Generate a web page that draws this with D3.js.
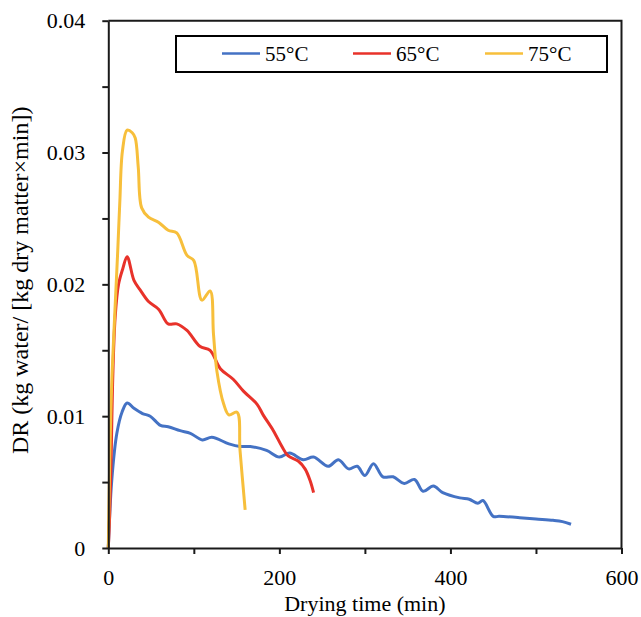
<!DOCTYPE html>
<html><head><meta charset="utf-8">
<script src="https://cdn.jsdelivr.net/npm/d3@7"></script>
<style>
body{margin:0;background:#fff}
svg{display:block}
</style>
</head><body><svg id="c" width="641" height="617"></svg>
<script>
// ---- data ----
const seriesNames = ["55°C", "65°C", "75°C"];
const seriesColors = ["#4472C4", "#E8322A", "#F7BF3B"];

const time55 = [0, 4, 10, 16, 22, 30, 40, 49, 61, 70, 84, 96, 110, 121, 141, 154, 166, 185, 200, 212, 228, 240, 257, 269, 281, 291, 300, 310, 321, 333, 346, 358, 368, 380, 391, 411, 422, 432, 438, 450, 457, 481, 500, 520, 531, 541];
const dr55   = [0, 0.0051, 0.0087, 0.0103, 0.0110, 0.0106, 0.0102, 0.0100, 0.0093, 0.0092, 0.0089, 0.0087, 0.0082, 0.0084, 0.0079, 0.0077, 0.0077, 0.0074, 0.0069, 0.0072, 0.0067, 0.0069, 0.0062, 0.0067, 0.0060, 0.0062, 0.0055, 0.0064, 0.0054, 0.0054, 0.0049, 0.0052, 0.0043, 0.0047, 0.0042, 0.0038, 0.0037, 0.0034, 0.0036, 0.0024, 0.0024, 0.0023, 0.0022, 0.0021, 0.0020, 0.0018];

const time65 = [0, 1.5, 3.5, 5, 8, 12, 17, 22, 30, 37, 47, 59, 70, 80, 92, 107, 119, 131, 146, 158, 174, 181, 193, 203, 210, 222, 230, 236, 240];
const dr65   = [0, 0.0023, 0.0074, 0.0124, 0.0175, 0.0200, 0.0212, 0.0221, 0.0203, 0.0196, 0.0187, 0.0181, 0.0170, 0.0170, 0.0165, 0.0153, 0.0150, 0.0136, 0.0128, 0.0119, 0.0109, 0.0101, 0.0089, 0.0077, 0.0070, 0.0066, 0.0060, 0.0051, 0.0042];

const time75 = [0, 1.2, 4, 11, 13.5, 16.5, 22, 28, 31.5, 35, 39, 47, 59, 70, 80, 92, 100, 109.5, 119, 123, 127, 135, 141, 150.5, 154, 160];
const dr75   = [0, 0.0049, 0.0124, 0.0225, 0.0263, 0.0301, 0.0317, 0.0315, 0.0311, 0.0289, 0.0258, 0.0251, 0.0247, 0.0241, 0.0239, 0.0222, 0.0218, 0.0188, 0.0195, 0.0162, 0.0134, 0.0109, 0.0101, 0.0103, 0.0074, 0.0029];

const xTickValues = [0, 100, 200, 300, 400, 500, 600];
const xTickLabels = ["0", "", "200", "", "400", "", "600"];
const yTickValues = [0, 0.005, 0.01, 0.015, 0.02, 0.025, 0.03, 0.035, 0.04];
const yTickLabels = ["0", "", "0.01", "", "0.02", "", "0.03", "", "0.04"];

const xTitle = "Drying time (min)";
const yTitle = "DR (kg water/ [kg dry matter×min])";

// ---- drawing ----
const FONT = "Liberation Serif";
const svg = d3.select("#c");
const L = 108.3, R = 621.5, T = 20.7, B = 548;
const x = d3.scaleLinear().domain([0, 600]).range([L, R]);
const y = d3.scaleLinear().domain([0, 0.04]).range([B, T]);

const series = [
  {name: seriesNames[0], color: seriesColors[0], t: time55, v: dr55},
  {name: seriesNames[1], color: seriesColors[1], t: time65, v: dr65},
  {name: seriesNames[2], color: seriesColors[2], t: time75, v: dr75}
];

const line = d3.line()
  .x(d => x(d[0])).y(d => y(d[1]))
  .curve(d3.curveCatmullRom.alpha(0.5));

svg.append("g").selectAll("path").data(series).join("path")
  .attr("d", s => line(s.t.map((t, i) => [t, s.v[i]])))
  .attr("fill", "none")
  .attr("stroke", s => s.color)
  .attr("stroke-width", 3)
  .attr("stroke-linejoin", "round")
  .attr("stroke-linecap", "butt");

// frame (top and right)
svg.append("path")
  .attr("d", `M${L},${T}H${R}V${B}`)
  .attr("fill", "none").attr("stroke", "#1a1a1a").attr("stroke-width", 2);

const xAxis = d3.axisBottom(x).tickValues(xTickValues)
  .tickFormat((d, i) => xTickLabels[i]).tickSize(6).tickPadding(15).tickSizeOuter(0);
const yAxis = d3.axisLeft(y).tickValues(yTickValues)
  .tickFormat((d, i) => yTickLabels[i]).tickSize(6).tickPadding(17).tickSizeOuter(0);

const gx = svg.append("g").attr("transform", `translate(0,${B})`).call(xAxis);
const gy = svg.append("g").attr("transform", `translate(${L},0)`).call(yAxis);
[gx, gy].forEach(g => {
  g.attr("font-family", FONT).attr("font-size", 22);
  g.selectAll("path.domain").attr("stroke", "#1a1a1a").attr("stroke-width", 2);
  g.selectAll(".tick line").attr("stroke", "#1a1a1a").attr("stroke-width", 2);
  g.selectAll(".tick text").attr("font-family", FONT).attr("font-size", 22)
    .style("font-family", FONT).style("font-size", "22px").attr("fill", "#000");
});

function txt(sel, size) {
  return sel.attr("font-family", FONT).attr("font-size", size)
    .style("font-family", FONT).style("font-size", size + "px").attr("fill", "#000");
}

// axis titles
txt(svg.append("text").attr("x", (L + R) / 2).attr("y", 611)
  .attr("text-anchor", "middle"), 22).text(xTitle);
txt(svg.append("text")
  .attr("transform", `translate(28,${(T + B) / 2 - 4}) rotate(-90)`)
  .attr("text-anchor", "middle"), 24).text(yTitle);

// legend
const lg = svg.append("g");
lg.append("rect").attr("x", 176).attr("y", 36).attr("width", 431).attr("height", 36)
  .attr("fill", "#fff").attr("stroke", "#000").attr("stroke-width", 2);
const legX = [222, 353, 485];
series.forEach((s, i) => {
  lg.append("line").attr("x1", legX[i]).attr("x2", legX[i] + 38)
    .attr("y1", 53.5).attr("y2", 53.5).attr("stroke", s.color).attr("stroke-width", 2.5);
  txt(lg.append("text").attr("x", legX[i] + 43).attr("y", 61), 21).text(s.name);
});
</script>
</body></html>
